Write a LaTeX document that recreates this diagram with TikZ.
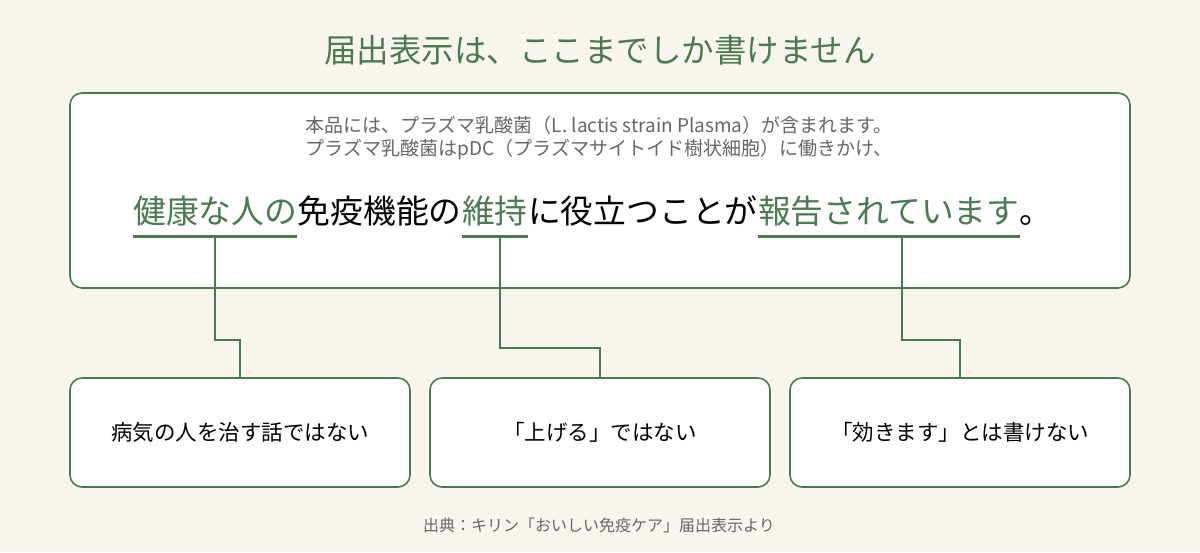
\documentclass[tikz,border=0pt]{standalone}
\usepackage{fontspec}
\setmainfont{Noto Sans CJK JP}
\usetikzlibrary{positioning}
\definecolor{bgcream}{HTML}{F8F5EE}
\definecolor{leaf}{HTML}{4A7A50}
\definecolor{ink}{HTML}{666666}
\tikzset{
  panel/.style={draw=leaf, line width=1.6pt, rounded corners=12pt, fill=white},
  part/.style={inner sep=0pt, font=\fontsize{32.8}{32.8}\selectfont, anchor=base west},
  hl/.style={part, text=leaf},
  underbar/.style={leaf, line width=3pt},
  link/.style={leaf, line width=1.4pt},
  note/.style={font=\fontsize{21.5}{21.5}\selectfont},
}
\begin{document}
\begin{tikzpicture}[x=1pt,y=-1pt]
    \fill[bgcream] (0,0) rectangle (1200,552);
    \useasboundingbox (0,0) rectangle (1200,552);

    % title
    \node (title) [text=leaf, font=\fontsize{32.5}{32.5}\selectfont] at (600,50) {届出表示は、ここまでしか書けません};

    % main panel
    \draw[panel] (70,93) rectangle (1130,288);
    \node (lineA) [text=ink, font=\fontsize{19}{19}\selectfont] at (599,125) {本品には、プラズマ乳酸菌（L. lactis strain Plasma）が含まれます。};
    \node (lineB) [text=ink, font=\fontsize{19}{19}\selectfont] at (599,150) {プラズマ乳酸菌はpDC（プラズマサイトイド樹状細胞）に働きかけ、};

    % main sentence
    \node (s1) [hl] at (133,223) {健康な人の};
    \node (s2) [part, right=0pt of s1.base east, anchor=base west] {免疫機能の};
    \node (s3) [hl, right=0pt of s2.base east, anchor=base west] {維持};
    \node (s4) [part, right=0pt of s3.base east, anchor=base west] {に役立つことが};
    \node (s5) [hl, right=0pt of s4.base east, anchor=base west] {報告されています};
    \node (s6) [part, right=0pt of s5.base east, anchor=base west] {。};

    \draw[underbar] ([yshift=-13pt]s1.base west) -- ([yshift=-13pt]s1.base east);
    \draw[underbar] ([yshift=-13pt]s3.base west) -- ([yshift=-13pt]s3.base east);
    \draw[underbar] ([yshift=-13pt]s5.base west) -- ([yshift=-13pt]s5.base east);

    \coordinate (u1) at (215,237);
    \coordinate (u2) at (500,237);
    \coordinate (u3) at (902,237);

    % notes
    \draw[panel] (70,378) rectangle (410,487);
    \draw[panel] (430,378) rectangle (770,487);
    \draw[panel] (790,378) rectangle (1130,487);
    \node (n1) [note] at (240,432) {病気の人を治す話ではない};
    \node (n2) [note] at (600,432) {「上げる」ではない};
    \node (n3) [note] at (960,432) {「効きます」とは書けない};
    \coordinate (t1) at (240,378);
    \coordinate (t2) at (600,378);
    \coordinate (t3) at (960,378);

    \draw[link] (u1) -- (215,340) -- (240,340) -- (t1);
    \draw[link] (u2) -- (500,348) -- (600,348) -- (t2);
    \draw[link] (u3) -- (902,340) -- (960,340) -- (t3);

    % source
    \node (src) [text=ink, font=\fontsize{16}{16}\selectfont] at (599,525) {出典：キリン「おいしい免疫ケア」届出表示より};
\end{tikzpicture}
\end{document}
